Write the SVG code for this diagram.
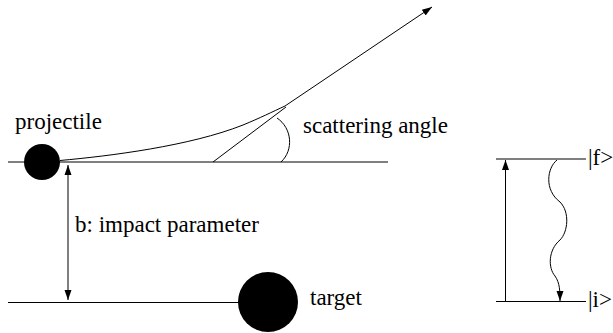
<svg xmlns="http://www.w3.org/2000/svg" width="613" height="333" viewBox="0 0 613 333">
<style>
.t{font-family:'Liberation Serif',serif;font-size:23px;fill:#000}
.ln{stroke:#000;stroke-width:1;fill:none}
</style>
<defs>
<marker id="ah" viewBox="0 0 10 10" refX="10" refY="5" markerWidth="10" markerHeight="10" markerUnits="userSpaceOnUse" orient="auto-start-reverse">
<path d="M0,1.5 L10,5 L0,8.5 Z" fill="#000"/>
</marker>
</defs>
<rect width="613" height="333" fill="#fff"/>
<g id="connectors">
<line class="ln" x1="8" y1="162" x2="388" y2="162"/>
<line class="ln" x1="8" y1="302.5" x2="240" y2="302.5"/>
<line class="ln" x1="68" y1="165" x2="68" y2="300" marker-start="url(#ah)" marker-end="url(#ah)"/>
<path class="ln" d="M60,160.5 C110,156 190,146 243,125 C260,118 272,112 285,106 L432,7" marker-end="url(#ah)"/>
<line class="ln" x1="213" y1="162" x2="286" y2="107"/>
<path class="ln" d="M277,118 C292,128 294,150 281,162"/>
<line class="ln" x1="496" y1="159" x2="586" y2="159"/>
<line class="ln" x1="496" y1="301.5" x2="586" y2="301.5"/>
<line class="ln" x1="505.5" y1="301" x2="505.5" y2="160" marker-end="url(#ah)"/>
<path class="ln" d="M557,160 C547,168 544,190 560,202 C570,212 568,232 560,240 C548,250 548,268 555,276 C560,283 560,292 560,301" marker-end="url(#ah)"/>
</g>
<g id="projectile">
<circle cx="42" cy="162" r="18" fill="#000"/>
<text class="t" x="15" y="129">projectile</text>
</g>
<g id="target">
<circle cx="268" cy="302" r="30" fill="#000"/>
<text class="t" x="310" y="305">target</text>
</g>
<g id="impact">
<text class="t" x="75" y="232">b: impact parameter</text>
</g>
<g id="angle">
<text class="t" x="303" y="133">scattering angle</text>
</g>
<g id="state-f">
<text class="t" x="588" y="165">|f&gt;</text>
</g>
<g id="state-i">
<text class="t" x="588" y="307">|i&gt;</text>
</g>
</svg>
